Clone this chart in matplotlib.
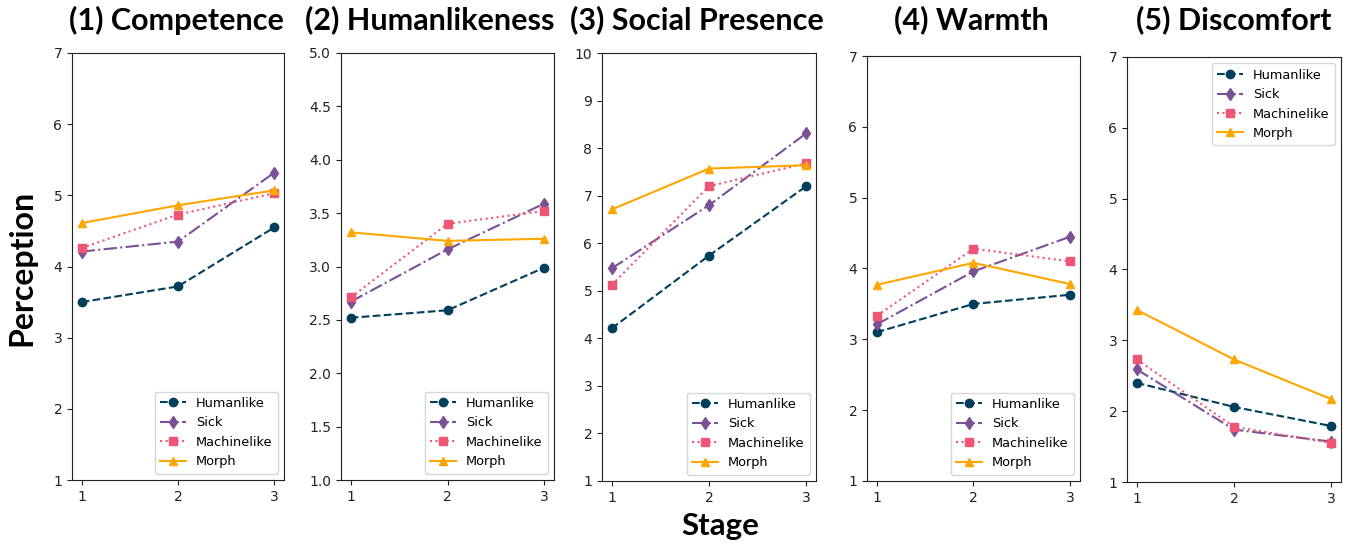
import matplotlib
matplotlib.use("Agg")
import matplotlib.pyplot as plt

# stages and groups
stages = [1, 2, 3]
groups = ["Humanlike", "Sick", "Machinelike", "Morph"]
colors = ["#003f5c", "#7a5195", "#ef5675", "#ffa600"]
styles = ["--", "-.", ":", "-"]
markers = ["o", "d", "s", "^"]

titles = ["(1) Competence", "(2) Humanlikeness", "(3) Social Presence",
          "(4) Warmth", "(5) Discomfort"]

# mean ratings per group
competence = [[3.50, 3.72, 4.55], [4.21, 4.35, 5.32], [4.26, 4.73, 5.03], [4.61, 4.86, 5.07]]
humanlikeness = [[2.52, 2.59, 2.99], [2.67, 3.16, 3.59], [2.71, 3.40, 3.52], [3.32, 3.24, 3.26]]
social_presence = [[4.21, 5.74, 7.20], [5.47, 6.80, 8.31], [5.12, 7.20, 7.68], [6.71, 7.57, 7.64]]
warmth = [[3.10, 3.50, 3.63], [3.21, 3.96, 4.45], [3.33, 4.28, 4.10], [3.77, 4.08, 3.78]]
discomfort = [[2.40, 2.06, 1.79], [2.59, 1.74, 1.57], [2.73, 1.78, 1.55], [3.43, 2.73, 2.17]]

panels = [competence, humanlikeness, social_presence, warmth, discomfort]
yticks = [[1, 2, 3, 4, 5, 6, 7],
          [1.0, 1.5, 2.0, 2.5, 3.0, 3.5, 4.0, 4.5, 5.0],
          [1, 2, 3, 4, 5, 6, 7, 8, 9, 10],
          [1, 2, 3, 4, 5, 6, 7],
          [1, 2, 3, 4, 5, 6, 7]]
ytick_labels = [[str(t) for t in yticks[0]],
                ["%.1f" % t for t in yticks[1]],
                [str(t) for t in yticks[2]],
                [str(t) for t in yticks[3]],
                [str(t) for t in yticks[4]]]
legend_loc = ["lower right", "lower right", "lower right", "lower right", "upper right"]

W, H = 1348, 544
# axes boxes in pixels: left, right, top, bottom
boxes = [(72, 284, 53, 480), (341, 554, 53, 480), (602, 816, 53, 481),
         (867, 1080, 56, 481), (1127, 1341, 57, 482)]
title_x = [176, 430, 697, 971, 1234]

fig = plt.figure(figsize=(W / 100, H / 100), dpi=100)
for i, data in enumerate(panels):
    l, r, t, b = boxes[i]
    ax = fig.add_axes([l / W, 1 - b / H, (r - l) / W, (b - t) / H])
    for g in range(len(groups)):
        ax.plot(stages, data[g], linestyle=styles[g], marker=markers[g],
                color=colors[g], label=groups[g], markersize=6, linewidth=1.5)
    ax.set_ylim(yticks[i][0], yticks[i][-1])
    ax.set_yticks(yticks[i])
    ax.set_yticklabels(ytick_labels[i])
    ax.set_xticks(stages)
    ax.tick_params(labelsize=10, colors="#222222")
    for s in ax.spines.values():
        s.set_color("#222222")
    ax.legend(loc=legend_loc[i], fontsize=9.3)
    fig.text(title_x[i] / W, 1 - 20 / H, titles[i], ha="center", va="center",
             fontsize=22, fontweight="bold", family="Lato")

fig.text(22 / W, 1 - 268 / H, "Perception", rotation=90, ha="center", va="center",
         fontsize=23, fontweight="bold", family="Lato")
fig.text(720 / W, 1 - 526 / H, "Stage", ha="center", va="center",
         fontsize=22.5, fontweight="bold", family="Lato")

fig.savefig("out.png", dpi=100)
